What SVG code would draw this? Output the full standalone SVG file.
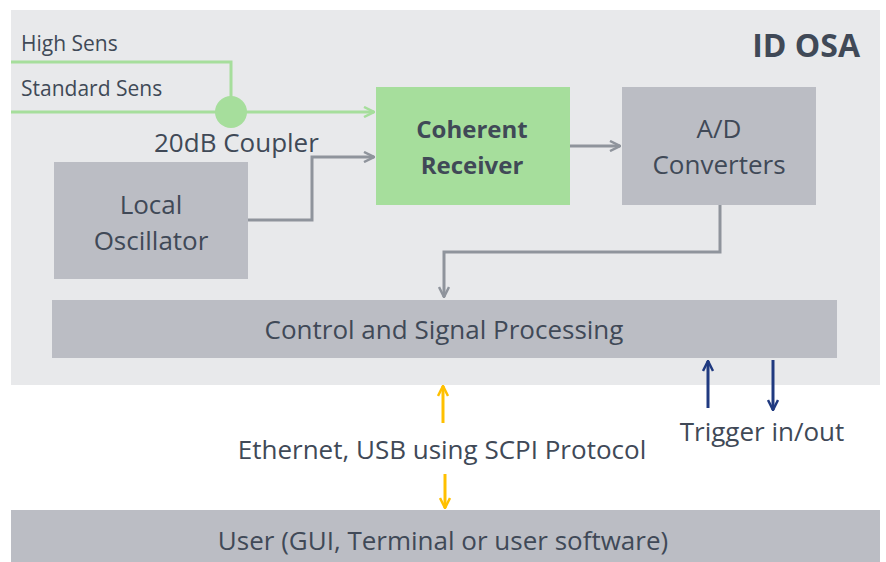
<svg xmlns="http://www.w3.org/2000/svg" width="886" height="562" viewBox="0 0 886 562">
<defs>
<style>
text{font-family:"Open Sans","DejaVu Sans",sans-serif;fill:#404957}
.box{fill:#BBBDC4}
.g{stroke:#8F949C;stroke-width:3;fill:none}
.gr{stroke:#A6DE9C;stroke-width:3;fill:none}
.y{stroke:#FFC000;stroke-width:3;fill:none}
.b{stroke:#203A80;stroke-width:3;fill:none}
.t22{font-size:26px}
.t18{font-size:21px}
</style>
<marker id="ag" viewBox="0 0 12 12" refX="11" refY="6" markerWidth="12" markerHeight="12" markerUnits="userSpaceOnUse" orient="auto"><path d="M1,1 L11,6 L1,11" fill="none" stroke="#8F949C" stroke-width="2.5"/></marker>
<marker id="agr" viewBox="0 0 12 12" refX="11" refY="6" markerWidth="12" markerHeight="12" markerUnits="userSpaceOnUse" orient="auto"><path d="M1,1 L11,6 L1,11" fill="none" stroke="#A6DE9C" stroke-width="2.5"/></marker>
<marker id="ay" viewBox="0 0 12 12" refX="11" refY="6" markerWidth="12" markerHeight="12" markerUnits="userSpaceOnUse" orient="auto"><path d="M1,1 L11,6 L1,11" fill="none" stroke="#FFC000" stroke-width="2.5"/></marker>
<marker id="ab" viewBox="0 0 12 12" refX="11" refY="6" markerWidth="12" markerHeight="12" markerUnits="userSpaceOnUse" orient="auto"><path d="M1,1 L11,6 L1,11" fill="none" stroke="#203A80" stroke-width="2.5"/></marker>
</defs>
<rect width="886" height="562" fill="#FFFFFF"/>
<g id="panel">
<rect x="11" y="10" width="869" height="375" fill="#E8E9EB"/>
<text x="860" y="57" text-anchor="end" style="font-size:32px;font-weight:bold">ID OSA</text>
</g>
<g id="connectors">
<polyline class="gr" points="11,62 231,62 231,100"/>
<line class="gr" x1="11" y1="112" x2="374" y2="112" marker-end="url(#agr)"/>
<polyline class="g" points="248,220 312,220 312,157 374,157" marker-end="url(#ag)"/>
<line class="g" x1="570" y1="146" x2="620" y2="146" marker-end="url(#ag)"/>
<polyline class="g" points="720,205 720,252 444,252 444,297" marker-end="url(#ag)"/>
<line class="y" x1="443" y1="423" x2="443" y2="386" marker-end="url(#ay)"/>
<line class="y" x1="445" y1="474" x2="445" y2="508" marker-end="url(#ay)"/>
<line class="b" x1="708" y1="408" x2="708" y2="361" marker-end="url(#ab)"/>
<line class="b" x1="773" y1="360" x2="773" y2="410" marker-end="url(#ab)"/>
</g>
<g id="labels">
<text class="t18" x="21" y="51">High Sens</text>
<text class="t18" x="21" y="96">Standard Sens</text>
<text class="t22" x="154" y="152">20dB Coupler</text>
<text class="t22" x="442" y="459" text-anchor="middle">Ethernet, USB using SCPI Protocol</text>
<text class="t22" x="762" y="441" text-anchor="middle">Trigger in/out</text>
</g>
<g id="coupler">
<circle cx="231" cy="112" r="16" fill="#A6DE9C"/>
</g>
<g id="coherent-receiver">
<rect x="376" y="87" width="194" height="118" fill="#A6DE9C"/>
<text x="472" y="138" text-anchor="middle" style="font-size:24px;font-weight:bold">Coherent</text>
<text x="472" y="174" text-anchor="middle" style="font-size:24px;font-weight:bold">Receiver</text>
</g>
<g id="ad-converters">
<rect class="box" x="622" y="87" width="194" height="118"/>
<text class="t22" x="719" y="138" text-anchor="middle">A/D</text>
<text class="t22" x="719" y="174" text-anchor="middle">Converters</text>
</g>
<g id="local-oscillator">
<rect class="box" x="54" y="162" width="194" height="117"/>
<text class="t22" x="151" y="214" text-anchor="middle">Local</text>
<text class="t22" x="151" y="250" text-anchor="middle">Oscillator</text>
</g>
<g id="control">
<rect class="box" x="52" y="300" width="785" height="58"/>
<text class="t22" x="444" y="339" text-anchor="middle">Control and Signal Processing</text>
</g>
<g id="user">
<rect class="box" x="11" y="510" width="869" height="52"/>
<text class="t22" x="443" y="550" text-anchor="middle">User (GUI, Terminal or user software)</text>
</g>
</svg>
